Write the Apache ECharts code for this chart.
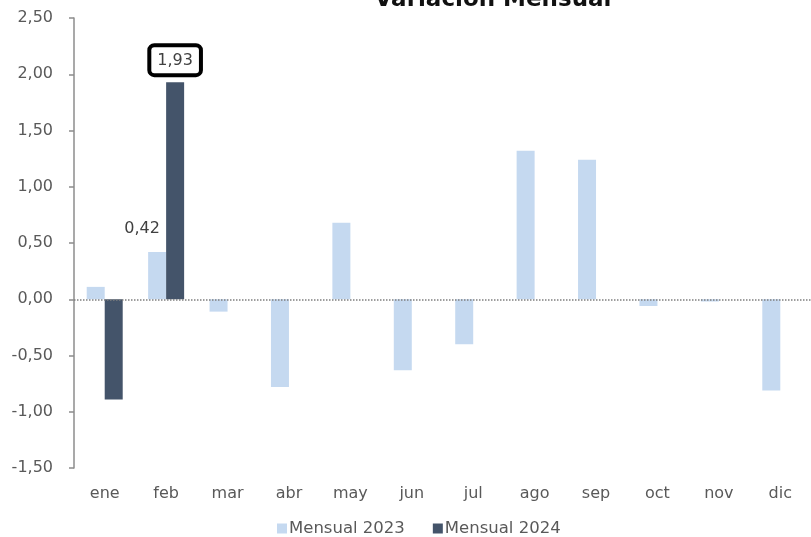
<!DOCTYPE html>
<html><head><meta charset="utf-8">
<script src="https://cdn.jsdelivr.net/npm/echarts@6/dist/echarts.min.js"></script>
<style>html,body{margin:0;padding:0;background:#fff}#c{width:811px;height:537px}</style>
</head><body><div id="c"></div>
<script>
var categories = ['ene','feb','mar','abr','may','jun','jul','ago','sep','oct','nov','dic'];
var mensual2023 = [0.11, 0.42, -0.11, -0.78, 0.68, -0.63, -0.40, 1.32, 1.24, -0.06, -0.02, -0.81];
var mensual2024 = [-0.89, 1.93, null, null, null, null, null, null, null, null, null, null];
var yTicks = {min: -1.5, max: 2.5, interval: 0.5};
var labeled2023 = [1];
var labeled2024 = [1];

var FONT = 'DejaVu Sans';
var fmt = function (v) { return v.toFixed(2).replace('.', ','); };
var lbl2023 = {show: true, position: 'top', distance: 15, offset: [-15, 0],
  fontFamily: FONT, fontSize: 16, color: '#404040', formatter: function (p) { return fmt(p.value); }};
var lbl2024 = {show: true, position: 'top', distance: 9,
  fontFamily: FONT, fontSize: 16, color: '#404040',
  backgroundColor: '#fff', borderColor: '#000', borderWidth: 4, borderRadius: 3,
  padding: [6, 6, 4, 6], formatter: function (p) { return fmt(p.value); }};
var d2023 = mensual2023.map(function (v, i) {
  return labeled2023.indexOf(i) >= 0 ? {value: v, label: lbl2023} : v; });
var d2024 = mensual2024.map(function (v, i) {
  return labeled2024.indexOf(i) >= 0 ? {value: v, label: lbl2024} : v; });

var chart = echarts.init(document.getElementById('c'));
chart.setOption({
  animation: false,
  title: {text: 'Variación Mensual', left: 488, textAlign: 'center', top: -16,
    textStyle: {fontFamily: FONT, fontWeight: 'bold', fontSize: 23, color: '#111'}},
  grid: {left: 74, right: 0, top: 18, bottom: 69, containLabel: false},
  legend: {bottom: -5, left: 272, itemWidth: 10, itemHeight: 10, itemGap: 28,
    icon: 'rect', textStyle: {fontFamily: FONT, fontSize: 16.5, color: '#595959', padding: [0,0,0,-3]},
    data: ['Mensual 2023', 'Mensual 2024']},
  xAxis: {type: 'category', data: categories,
    axisLine: {show: false, onZero: false}, axisTick: {show: false},
    axisLabel: {fontFamily: FONT, fontSize: 16, color: '#595959', margin: 18}},
  yAxis: {type: 'value', min: yTicks.min, max: yTicks.max, interval: yTicks.interval,
    splitLine: {show: false},
    axisLine: {show: true, lineStyle: {color: '#8c8c8c', width: 1.5}},
    axisTick: {show: true, length: 5, lineStyle: {color: '#8c8c8c', width: 1.5}},
    axisLabel: {fontFamily: FONT, fontSize: 16, color: '#595959', margin: 21, formatter: fmt}},
  series: [
    {name: 'Mensual 2023', type: 'bar', data: d2023, barWidth: 18, barGap: '0%',
      itemStyle: {color: '#c5d9f0'},
      markLine: {silent: true, symbol: 'none', label: {show: false},
        lineStyle: {type: [1.5, 1.5], color: '#7f7f7f', width: 1.5},
        data: [{yAxis: 0}]}},
    {name: 'Mensual 2024', type: 'bar', data: d2024, barWidth: 18,
      itemStyle: {color: '#44546a'}}
  ]
});
</script></body></html>
